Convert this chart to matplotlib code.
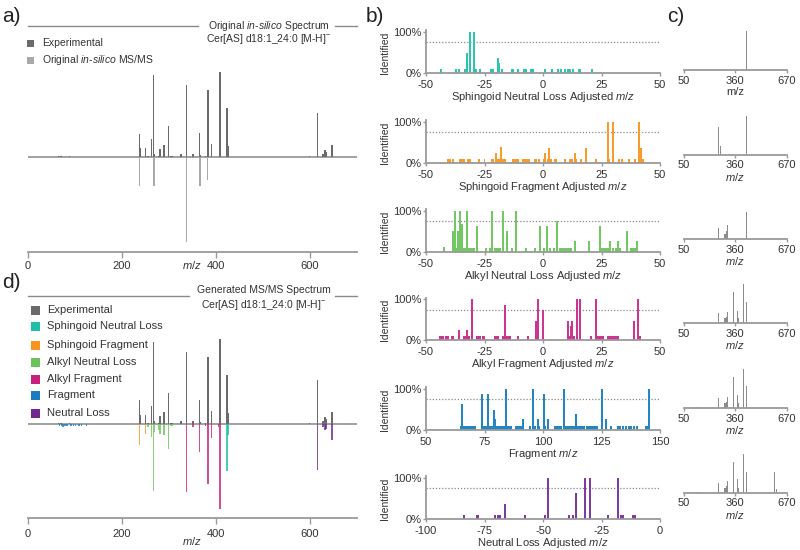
import numpy as np
import matplotlib.pyplot as plt
from matplotlib.patches import Rectangle

plt.rcParams['font.family'] = ['Liberation Sans', 'DejaVu Sans']
plt.rcParams['mathtext.fontset'] = 'custom'
plt.rcParams['mathtext.rm'] = 'Liberation Sans'
plt.rcParams['mathtext.it'] = 'Liberation Sans:italic'
plt.rcParams['axes.unicode_minus'] = False

W, H = 800, 550

# ---- colours
c_exp = '#6b6b6b'
c_insilico = '#a9a9a9'
c_axis = '#9a9a9a'
c_snl = '#1fbfaa'
c_sf = '#f7941d'
c_anl = '#6cc35b'
c_af = '#c8217d'
c_frag = '#1a7cbf'
c_nl = '#6e2a8e'
# tints used for the bar panels
b_cols = ['#2ec4b0', '#f89a2c', '#72c862', '#cc3590', '#2485c4', '#7f3c9e']

# ---- experimental spectrum (m/z, relative intensity)
exp_mz = [66, 71, 89, 238, 240, 251, 256, 263.5, 267, 269, 278, 281, 290, 299, 304, 307,
          326, 338, 351, 365.5, 367, 378, 382, 383.5, 391, 408.7, 424, 426,
          598.6, 616, 628, 632, 634, 646.8]
exp_int = [1.2, 2, 1.5, 28, 11, 11, 2, 21, 97, 4, 2, 10, 14.5, 37, 2, 2,
           3.5, 85, 4, 29, 3, 1, 34.5, 79, 16, 100, 58, 13,
           2, 52.5, 4, 8.6, 6, 15]

# original in-silico spectrum (drawn downward)
ins_mz = [238, 268.5, 338, 365, 367, 382]
ins_int = [34, 34, 100, 34, 34, 27]

# generated spectrum classes (drawn downward)
gen_snl_mz = [424, 426]
gen_snl_int = [55, 13]
gen_sf_mz = [238, 251]
gen_sf_int = [24, 11]
gen_anl_mz = [256, 263.5, 267, 269, 278, 281, 290, 299, 304, 307]
gen_anl_int = [3, 15, 78, 9, 7, 12, 12.5, 29, 2, 2]
gen_af_mz = [338, 351, 365.5, 378, 383, 391, 406, 408.7]
gen_af_int = [80, 3, 33, 2, 70, 16, 3, 100]
gen_frag_mz = [68, 72, 75, 78, 81, 84, 92, 97, 102, 109, 114, 125]
gen_frag_int = [2, 1.5, 3, 1.5, 2, 2.5, 1.5, 2, 1.5, 2, 1.5, 2]
gen_nl_mz = [616, 628, 632, 634, 647]
gen_nl_int = [54, 3.5, 7, 5.5, 18]

# ---- panel b: identification rates (adjusted m/z, % identified)
snl_bars = [(-43.6, 10), (-37.1, 10), (-36.1, 10), (-33.3, 10), (-32.4, 48), (-31.4, 100),
            (-29.3, 100), (-28.6, 10), (-26.9, 10), (-22.4, 10), (-21.3, 10), (-19.4, 36),
            (-18.6, 23), (-17.4, 10), (-13.1, 10), (-12.7, 10), (-10.6, 10), (-8.3, 10),
            (-7.7, 10), (-7.1, 10), (-5.3, 10), (-4.1, 10), (1.0, 10), (3.9, 10), (6.4, 10),
            (7.9, 10), (9.6, 10), (10.6, 10), (11.7, 10), (12.7, 10), (15.4, 10), (16.0, 10),
            (21.0, 10)]
sf_bars = [(-40.4, 10), (-39.9, 10), (-38.3, 10), (-35.3, 10), (-34.9, 10), (-34.4, 10),
           (-34.0, 10), (-33.6, 10), (-32.1, 10), (-31.4, 10), (-27.3, 10), (-25.0, 10),
           (-21.9, 10), (-21.3, 10), (-20.0, 24), (-19.4, 10), (-18.9, 10), (-18.0, 38),
           (-17.6, 10), (-17.0, 10), (-16.4, 10), (-13.0, 10), (-12.4, 10), (-11.9, 10),
           (-11.3, 10), (-10.7, 10), (-8.6, 10), (-8.0, 10), (-7.4, 10), (-6.7, 10),
           (-6.1, 10), (-3.6, 10), (-3.0, 10), (-1.9, 10), (0.4, 10), (1.0, 24), (2.3, 10),
           (2.7, 37), (3.3, 10), (5.3, 10), (5.7, 10), (9.4, 10), (11.4, 10), (12.0, 10),
           (12.6, 10), (13.6, 24), (14.1, 10), (16.4, 10), (18.4, 37), (22.6, 10),
           (27.7, 100), (28.3, 10), (30.0, 100), (32.3, 10), (33.9, 10), (36.9, 10),
           (39.4, 10), (40.9, 100), (41.9, 37), (42.9, 10)]
anl_bars = [(-42.4, 12), (-38.3, 50), (-37.7, 100), (-37.1, 10), (-36.4, 50), (-35.7, 10),
            (-35.3, 100), (-34.7, 67), (-33.6, 10), (-33.0, 10), (-32.4, 100), (-31.9, 10),
            (-31.3, 10), (-30.7, 10), (-30.1, 10), (-29.6, 10), (-28.4, 63), (-24.3, 10),
            (-22.7, 10), (-21.6, 100), (-20.7, 10), (-20.1, 10), (-19.6, 10), (-19.0, 10),
            (-18.4, 10), (-17.1, 100), (-15.3, 51), (-13.4, 10), (-11.4, 100), (-7.4, 10),
            (-3.4, 10), (-1.3, 63), (0.6, 10), (1.6, 63), (2.9, 10), (4.9, 10), (6.1, 75),
            (7.3, 10), (8.0, 10), (8.6, 10), (9.1, 10), (9.7, 10), (10.3, 10), (10.9, 10),
            (11.4, 10), (12.0, 10), (13.7, 25), (19.7, 25), (24.3, 63), (25.1, 10),
            (25.7, 10), (26.3, 10), (26.9, 10), (27.4, 10), (28.0, 10), (28.6, 25),
            (30.0, 10), (31.4, 10), (32.1, 25), (33.1, 10), (35.7, 51), (37.4, 10),
            (38.0, 10), (38.6, 10), (39.3, 10), (40.0, 25)]
af_bars = [(-43.9, 10), (-43.3, 10), (-42.7, 10), (-41.4, 10), (-40.7, 10), (-39.1, 10),
           (-38.6, 10), (-36.0, 24), (-33.6, 10), (-33.0, 10), (-32.3, 24), (-31.6, 10),
           (-30.3, 100), (-28.3, 10), (-27.7, 10), (-27.1, 10), (-25.7, 10), (-25.1, 10),
           (-20.6, 10), (-20.0, 10), (-19.4, 10), (-16.9, 10), (-16.3, 87), (-15.7, 10),
           (-15.1, 10), (-14.6, 10), (-14.0, 10), (-10.6, 10), (-6.6, 10), (-3.1, 48),
           (-2.6, 10), (-2.3, 100), (-2.0, 10), (0.0, 75), (10.7, 48), (11.3, 10),
           (11.9, 35), (12.4, 48), (13.4, 10), (14.7, 100), (15.7, 100), (20.6, 10),
           (22.7, 100), (23.3, 10), (23.9, 10), (24.4, 10), (25.0, 10), (25.6, 10),
           (27.9, 10), (28.4, 10), (29.0, 10), (29.6, 10), (30.1, 10), (30.7, 10),
           (31.3, 10), (31.9, 10), (38.9, 48), (40.7, 100), (41.4, 10)]
frag_bars = [(64.9, 10), (65.4, 63), (65.9, 10), (66.6, 10), (67.4, 10), (68.3, 10),
             (69.1, 10), (70.0, 10), (70.9, 10), (74.0, 88), (74.6, 10), (75.1, 10),
             (75.7, 10), (76.3, 88), (76.9, 10), (77.4, 10), (78.0, 10), (78.6, 10),
             (79.0, 50), (79.6, 26), (80.1, 10), (80.6, 10), (81.4, 10), (82.0, 10),
             (82.6, 10), (83.1, 10), (83.6, 10), (84.0, 100), (84.6, 10), (85.1, 10),
             (85.7, 10), (86.4, 10), (88.3, 10), (88.9, 10), (89.4, 10), (90.0, 10),
             (90.6, 10), (91.3, 26), (94.4, 10), (95.6, 100), (96.4, 10), (97.7, 26),
             (98.4, 10), (100.4, 88), (101.0, 10), (102.3, 26), (105.0, 10), (105.7, 10),
             (106.4, 10), (107.1, 10), (107.9, 10), (109.1, 100), (109.7, 10), (110.4, 10),
             (111.1, 10), (111.7, 10), (112.4, 10), (112.9, 10), (113.4, 10), (114.0, 38),
             (114.6, 10), (115.1, 10), (115.7, 10), (116.3, 10), (117.0, 10), (117.6, 10),
             (118.6, 10), (119.4, 10), (120.1, 10), (121.0, 10), (121.7, 10), (122.4, 10),
             (123.1, 10), (125.4, 100), (127.0, 26), (128.9, 10), (132.0, 10), (133.1, 10),
             (134.3, 10), (135.4, 10), (136.6, 10), (137.7, 10), (138.9, 10), (140.0, 10),
             (144.0, 10), (144.6, 10), (145.1, 100)]
nl_bars = [(-83.6, 10), (-78.2, 10), (-77.6, 10), (-70.4, 10), (-69.1, 10), (-68.4, 10),
           (-66.1, 37), (-57.5, 10), (-49.3, 10), (-48.0, 100), (-38.9, 10), (-37.2, 10),
           (-35.9, 62), (-31.9, 100), (-30.1, 100), (-22.2, 10), (-17.9, 100), (-16.8, 10),
           (-16.2, 10), (-15.6, 10), (-11.7, 10), (-11.1, 10), (-10.5, 10)]

b_labels = ['Sphingoid Neutral Loss Adjusted $m/z$', 'Sphingoid Fragment Adjusted $m/z$',
            'Alkyl Neutral Loss Adjusted $m/z$', 'Alkyl Fragment Adjusted $m/z$',
            'Fragment $m/z$', 'Neutral Loss Adjusted $m/z$']
b_ticks = [[-50, -25, 0, 25, 50]] * 4 + [[50, 75, 100, 125, 150], [-100, -75, -50, -25, 0]]

# ---- panel c: cumulative annotated peaks (m/z, relative height)
c_rows = [
    [(424, 0.1), (426, 1.0)],
    [(259, 0.71), (269, 0.21), (424, 0.21), (426, 1.0)],
    [(259, 0.28), (267, 0.14), (273, 0.14), (279, 0.42), (285, 1.0), (294, 0.14),
     (302, 0.14), (308, 0.2), (314, 0.36), (424, 0.14), (426, 0.7)],
    [(259, 0.26), (267, 0.13), (273, 0.13), (279, 0.13), (285, 0.77), (294, 0.13),
     (302, 0.13), (308, 0.17), (314, 0.28), (348, 0.79), (374, 0.32), (380, 0.13),
     (388, 0.7), (394, 0.13), (408, 1.0), (424, 0.13), (426, 0.54)],
    [(112, 0.03), (122, 0.03), (132, 0.03), (145, 0.03), (259, 0.26), (267, 0.13),
     (273, 0.13), (279, 0.13), (285, 0.77), (294, 0.13), (302, 0.13), (308, 0.17),
     (314, 0.3), (348, 0.79), (374, 0.34), (380, 0.13), (388, 0.7), (394, 0.13),
     (408, 1.0), (424, 0.13), (426, 0.56)],
    [(112, 0.03), (122, 0.03), (132, 0.03), (145, 0.03), (259, 0.26), (267, 0.13),
     (273, 0.13), (279, 0.13), (285, 0.77), (294, 0.13), (302, 0.13), (308, 0.17),
     (314, 0.3), (348, 0.79), (374, 0.34), (380, 0.13), (388, 0.7), (394, 0.13),
     (408, 1.0), (424, 0.13), (426, 0.52), (595, 0.53), (610, 0.1), (648, 0.19)],
]


fig = plt.figure(figsize=(8, 5.5), dpi=100)


def px_axes(left, top, right, bottom):
    return fig.add_axes([left / W, 1 - bottom / H, (right - left) / W, (bottom - top) / H])


def ftext(x, y, s, **kw):
    fig.text(x / W, 1 - y / H, s, **kw)


def swatch(x, y, size, color):
    fig.patches.append(Rectangle((x / W, 1 - (y + size) / H), size / W, size / H,
                                 transform=fig.transFigure, color=color, lw=0))


def style_bottom(ax, pad=2):
    for s in ['top', 'right', 'left']:
        ax.spines[s].set_visible(False)
    ax.spines['bottom'].set_color(c_axis)
    ax.spines['bottom'].set_linewidth(1.3)
    ax.tick_params(axis='x', colors=c_axis, length=4, width=1, pad=pad, labelsize=8,
                   labelcolor='#333333')
    ax.set_yticks([])


def spectrum_panel(top, bottom, zero, pad):
    ax = px_axes(27.7, top, 357, bottom)
    scale = 85.0
    ax.set_ylim(-(bottom - zero) / scale * 100, (zero - top) / scale * 100)
    ax.set_xlim(0, 700)
    ax.set_xticks([0, 200, 400, 600])
    style_bottom(ax, pad)
    ax.axhline(0, color=c_axis, lw=1.3, zorder=1)
    ax.bar(exp_mz, exp_int, width=3, color=c_exp, zorder=2)
    return ax


def title_rule(ax, x0, x1):
    # horizontal rule broken by the title text
    ax.plot([0, x0], [1, 1], transform=ax.transAxes, color='#8a8a8a', lw=1, clip_on=False)
    ax.plot([x1, 1], [1, 1], transform=ax.transAxes, color='#8a8a8a', lw=1, clip_on=False)


# ---------------- panel a
ax_a = spectrum_panel(26, 252.3, 157.3, 2)
ax_a.bar(ins_mz, [-v for v in ins_int], width=3, color=c_insilico, zorder=2)
title_rule(ax_a, 0.517, 0.933)
ftext(269, 26, 'Original $in$-$silico$ Spectrum', ha='center', va='center', fontsize=7.5,
      color='#333333')
ftext(269, 38.5, 'Cer[AS] d18:1_24:0 [M-H]$^{-}$', ha='center', va='center', fontsize=7.5,
      color='#333333')
swatch(26.5, 39.5, 7, c_exp)
ftext(42.5, 43, 'Experimental', va='center', fontsize=7.5, color='#333333')
swatch(26.5, 56.5, 7, c_insilico)
ftext(42.5, 60, 'Original $in$-$silico$ MS/MS', va='center', fontsize=7.5, color='#333333')
ftext(192, 265, '$m/z$', ha='center', va='center', fontsize=8, color='#333333')

# ---------------- panel d
ax_d = spectrum_panel(296, 518, 424.3, 4)
for mz, vals, col in [(gen_sf_mz, gen_sf_int, c_sf), (gen_anl_mz, gen_anl_int, c_anl),
                      (gen_af_mz, gen_af_int, c_af), (gen_snl_mz, gen_snl_int, c_snl),
                      (gen_frag_mz, gen_frag_int, c_frag), (gen_nl_mz, gen_nl_int, c_nl)]:
    ax_d.bar(mz, [-v for v in vals], width=3, color=col, alpha=0.8, lw=0, zorder=2)
title_rule(ax_d, 0.49, 0.933)
ftext(263.5, 290, 'Generated MS/MS Spectrum', ha='center', va='center', fontsize=7.5,
      color='#333333')
ftext(263.5, 305, 'Cer[AS] d18:1_24:0 [M-H]$^{-}$', ha='center', va='center', fontsize=7.5,
      color='#333333')
leg_d = [('Experimental', c_exp), ('Sphingoid Neutral Loss', c_snl),
         ('Sphingoid Fragment', c_sf), ('Alkyl Neutral Loss', c_anl),
         ('Alkyl Fragment', c_af), ('Fragment', c_frag), ('Neutral Loss', c_nl)]
leg_y = [310, 326, 345, 362, 379, 395, 413]
for (lab, col), y in zip(leg_d, leg_y):
    swatch(30.7, y - 4.5, 9, col)
    ftext(47, y, lab, va='center', fontsize=8, color='#333333')
ftext(192, 541, '$m/z$', ha='center', va='center', fontsize=8, color='#333333')

# ---------------- panel b
b_data = [snl_bars, sf_bars, anl_bars, af_bars, frag_bars, nl_bars]
b_zero = [72.7, 162.7, 251.7, 340.3, 430, 518.7]
for i, (bars, y0) in enumerate(zip(b_data, b_zero)):
    ax = px_axes(426, y0 - 41 * 1.04, 660, y0)
    ax.set_ylim(0, 104)
    ax.set_xlim(b_ticks[i][0], b_ticks[i][-1])
    xs = [b[0] for b in bars]
    hs = [b[1] for b in bars]
    ax.bar(xs, hs, width=0.85, color=b_cols[i], lw=0, zorder=2)
    ax.axhline(75, color='#8a8a8a', ls=(0, (1, 1.5)), lw=0.9, zorder=1)
    for s in ['top', 'right']:
        ax.spines[s].set_visible(False)
    for s in ['left', 'bottom']:
        ax.spines[s].set_color(c_axis)
        ax.spines[s].set_linewidth(1.3)
    ax.set_xticks(b_ticks[i])
    ax.set_yticks([0, 100])
    ax.set_yticklabels(['0%', '100%'])
    ax.tick_params(colors=c_axis, length=2, width=1, labelsize=8, labelcolor='#333333', pad=1)
    ax.tick_params(axis='x', length=2, pad=3)
    ftext(543, y0 + 24, b_labels[i], ha='center', va='center', fontsize=8, color='#333333')
    ftext(385, y0 - 20, 'Identified', ha='center', va='center', rotation=90, fontsize=7.5,
          color='#333333')

# ---------------- panel c
c_zero = [70, 154.7, 239, 323.3, 408.3, 492.7]
for i, (peaks, y0) in enumerate(zip(c_rows, c_zero)):
    ax = px_axes(684, y0 - 41, 786.7, y0)
    ax.set_ylim(0, 1.05)
    ax.set_xlim(50, 670)
    ax.bar([p[0] for p in peaks], [p[1] for p in peaks], width=4, color='#8c8c8c', lw=0)
    style_bottom(ax, 2)
    ax.set_xticks([50, 360, 670])
    ax.tick_params(axis='x', length=2)
    lab = 'm/z' if i == 0 else '$m/z$'
    ftext(735.3, y0 + 22, lab, ha='center', va='center', fontsize=8, color='#333333')

# ---------------- panel letters
for s, x, y in [('a)', 2, 16), ('b)', 366, 16), ('c)', 667, 16), ('d)', 2, 282)]:
    ftext(x, y, s, va='center', fontsize=15, color='#222222')

fig.savefig('out.png', dpi=100)
